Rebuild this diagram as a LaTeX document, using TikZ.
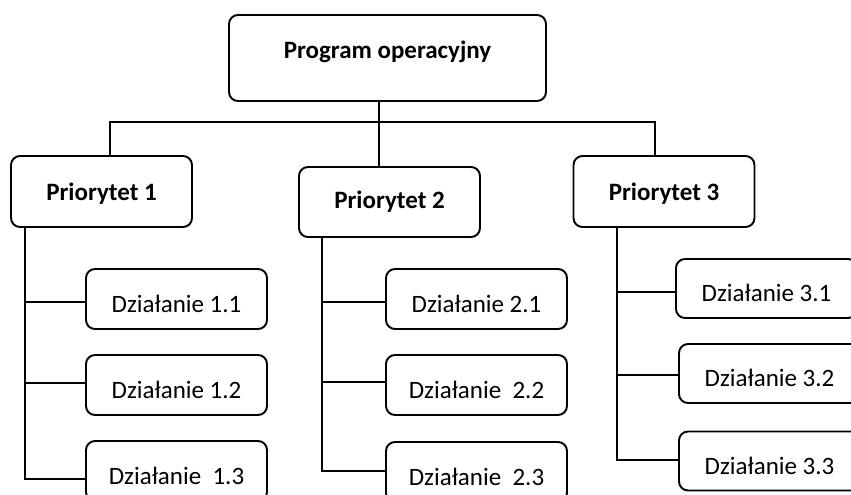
\documentclass[tikz,border=0pt]{standalone}
\usepackage{fontspec}
\setmainfont{Carlito}
\begin{document}
\begin{tikzpicture}[x=1pt,y=-1pt,
  box/.style={draw=black, line width=1.9pt, rounded corners=9pt, fill=white,
    inner sep=0pt, font=\fontsize{25}{29}\selectfont},
  topbox/.style={box, minimum width=317pt, minimum height=86pt,
    font=\fontsize{25}{29}\selectfont\bfseries, text height=12pt, text depth=10pt},
  prio/.style={box, minimum width=181pt, minimum height=71pt,
    font=\fontsize{25}{29}\selectfont\bfseries, text height=17pt, text depth=0pt},
  act/.style={box, minimum width=181pt, minimum height=60pt,
    text height=26pt, text depth=0pt},
  link/.style={draw=black, line width=1.9pt}]
\useasboundingbox (0,0) rectangle (851,495);

% root
\node[topbox] (top) at (387.5,58) {Program operacyjny};

% priorities
\node[prio] (p1) at (101.5,191.5) {Priorytet 1};
\node[prio, minimum height=70pt, text height=13pt] (p2) at (389.5,202) {Priorytet 2};
\node[prio] (p3) at (664,191.5) {Priorytet 3};

% actions
\node[act] (d11) at (176.5,299) {Działanie 1.1};
\node[act] (d12) at (176.5,385) {Działanie 1.2};
\node[act] (d13) at (176.5,471) {Działanie~~1.3};

\node[act] (d21) at (476.5,299) {Działanie 2.1};
\node[act] (d22) at (476.5,385) {Działanie~~2.2};
\node[act] (d23) at (476.5,472) {Działanie~~2.3};

\node[act, minimum height=59pt] (d31) at (766.5,288.5) {Działanie 3.1};
\node[act, minimum height=59pt] (d32) at (769.5,373.5) {Działanie 3.2};
\node[act, minimum height=59pt] (d33) at (769.5,461) {Działanie 3.3};

% root to priorities
\coordinate (bus) at (379,122);
\draw[link] ([xshift=-8.5pt]top.south) -- ([xshift=-10.5pt]p2.north);
\draw[link] ([xshift=8.5pt]p1.north) |- (bus) -| ([xshift=-9pt]p3.north);

% priority 1 branch
\coordinate (s1) at ([xshift=15pt]p1.south west);
\draw[link] (s1) |- ([yshift=-8pt]d13.west);
\draw[link] ([yshift=-3pt]d11.west) -- ([yshift=-3pt]d11.west -| s1);
\draw[link] ([yshift=2pt]d12.west) -- ([yshift=2pt]d12.west -| s1);

% priority 2 branch
\coordinate (s2) at ([xshift=24pt]p2.south west);
\draw[link] (s2) |- ([yshift=1pt]d23.west);
\draw[link] ([yshift=-3pt]d21.west) -- ([yshift=-3pt]d21.west -| s2);
\draw[link] ([yshift=3pt]d22.west) -- ([yshift=3pt]d22.west -| s2);

% priority 3 branch
\coordinate (s3) at ([xshift=44pt]p3.south west);
\draw[link] (s3) |- ([yshift=1pt]d33.west);
\draw[link] ([yshift=-3.5pt]d31.west) -- ([yshift=-3.5pt]d31.west -| s3);
\draw[link] ([yshift=-1.5pt]d32.west) -- ([yshift=-1.5pt]d32.west -| s3);
\end{tikzpicture}
\end{document}
